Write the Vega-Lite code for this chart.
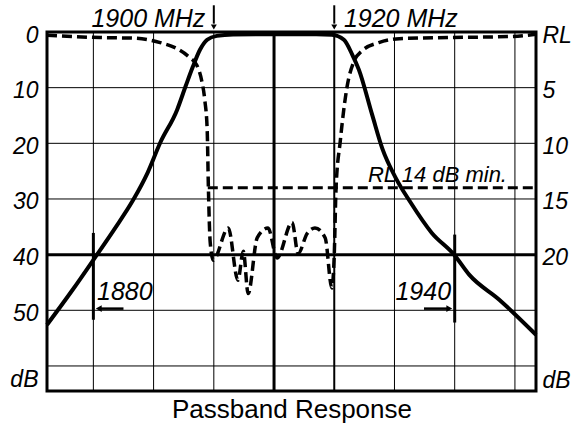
{
  "$schema": "https://vega.github.io/schema/vega-lite/v6.json",
  "width": 489,
  "height": 359,
  "autosize": "none",
  "padding": {"left": 47, "top": 32, "right": 36, "bottom": 32},
  "background": "white",
  "config": {
    "view": {"stroke": "black", "strokeWidth": 3},
    "font": "Liberation Sans",
    "axis": {"grid": false, "ticks": false, "domain": false, "title": null, "labelFont": "Liberation Sans", "labelFontStyle": "italic", "labelFontSize": 23, "labelColor": "black", "labelFlush": false, "labelOverlap": false, "labelBound": false}
  },
  "datasets": {
    "vthin": [{"f": 1880}, {"f": 1890}, {"f": 1900}, {"f": 1930}, {"f": 1940}, {"f": 1950}],
    "v1920": [{"f": 1920}],
    "v1910": [{"f": 1910}],
    "hthin": [{"db": 10}, {"db": 20}, {"db": 30}, {"db": 50}, {"db": 60}],
    "h40": [{"db": 40}],
    "markers": [{"f": 1880, "db": 36.1, "db2": 51.7}, {"f": 1940, "db": 36.4, "db2": 52.2}],
    "shafts": [{"f": 1881.0, "f2": 1885.0, "db": 49.7}, {"f": 1934.9, "f2": 1939.0, "db": 49.7}],
    "topshafts": [{"f": 1900, "db": -4.8, "db2": -1.5}, {"f": 1920, "db": -4.8, "db2": -1.5}],
    "headLeft": [{"f": 1880.9, "db": 49.7}],
    "headRight": [{"f": 1939.1, "db": 49.7}],
    "headDown": [{"f": 1900, "db": -0.9}, {"f": 1920, "db": -0.9}],
    "il": [
      {"f": 1872.3, "db": 52.6}, {"f": 1876.5, "db": 46.4}, {"f": 1880.6, "db": 40.0},
      {"f": 1883.5, "db": 35.4}, {"f": 1886.6, "db": 30.2}, {"f": 1889.0, "db": 25.3},
      {"f": 1891.1, "db": 19.9}, {"f": 1893.9, "db": 14.0}, {"f": 1895.3, "db": 9.8},
      {"f": 1896.5, "db": 6.3}, {"f": 1897.7, "db": 3.2}, {"f": 1898.9, "db": 1.4},
      {"f": 1900.5, "db": 0.7}, {"f": 1903.2, "db": 0.45}, {"f": 1910, "db": 0.4},
      {"f": 1917, "db": 0.4}, {"f": 1919.6, "db": 0.5}, {"f": 1921.6, "db": 1.4},
      {"f": 1923.0, "db": 4.1}, {"f": 1924.1, "db": 6.8}, {"f": 1926.3, "db": 14.9},
      {"f": 1928.0, "db": 21.0}, {"f": 1930.2, "db": 26.2}, {"f": 1932.6, "db": 30.5},
      {"f": 1936.2, "db": 36.1}, {"f": 1939.9, "db": 40.0}, {"f": 1942.4, "db": 43.6},
      {"f": 1947.4, "db": 48.1}, {"f": 1953.5, "db": 54.4}
    ],
    "textR": [{"f": 1898.6, "db": -0.9, "label": "1900 MHz"}, {"f": 1939.4, "db": 48.1, "label": "1940"}],
    "textL": [{"f": 1921.6, "db": -0.9, "label": "1920 MHz"}, {"f": 1880.6, "db": 48.1, "label": "1880"}],
    "rl": [
      {"f": 1872.3, "rl": 0.3}, {"f": 1881.1, "rl": 0.5}, {"f": 1886.6, "rl": 0.55},
      {"f": 1891.1, "rl": 0.95}, {"f": 1893.9, "rl": 1.5}, {"f": 1896.0, "rl": 2.3},
      {"f": 1897.2, "rl": 3.0}, {"f": 1898.0, "rl": 4.4}, {"f": 1898.5, "rl": 6.1},
      {"f": 1898.9, "rl": 8.8}, {"f": 1899.1, "rl": 14}, {"f": 1899.4, "rl": 18.9},
      {"f": 1899.9, "rl": 20.5}, {"f": 1902.4, "rl": 17.6}, {"f": 1904.0, "rl": 22.3},
      {"f": 1904.9, "rl": 19.7}, {"f": 1905.7, "rl": 23.5}, {"f": 1907.2, "rl": 18.5},
      {"f": 1909.0, "rl": 17.6}, {"f": 1910.5, "rl": 20.3}, {"f": 1913.0, "rl": 17.1},
      {"f": 1914.0, "rl": 19.9}, {"f": 1915.5, "rl": 18.1}, {"f": 1916.8, "rl": 17.6},
      {"f": 1918.5, "rl": 18.5}, {"f": 1919.6, "rl": 23.0}, {"f": 1920.0, "rl": 20.0},
      {"f": 1920.3, "rl": 14.0}, {"f": 1921.0, "rl": 9.8}, {"f": 1922.1, "rl": 5.0},
      {"f": 1923.3, "rl": 2.6}, {"f": 1924.6, "rl": 1.7}, {"f": 1927.4, "rl": 0.95},
      {"f": 1930.8, "rl": 0.6}, {"f": 1939.1, "rl": 0.5}, {"f": 1949.5, "rl": 0.4},
      {"f": 1953.5, "rl": 0.2}
    ],
    "rlmin": [{"f": 1899.0, "f2": 1953.5, "rl": 14}],
    "rltext": [{"f": 1925.6, "rl": 13.45, "label": "RL 14 dB min."}]
  },
  "layer": [
    {
      "layer": [
        {
          "data": {"name": "vthin"},
          "mark": {"type": "rule", "color": "black", "strokeWidth": 1},
          "encoding": {
            "x": {"field": "f", "type": "quantitative", "scale": {"domain": [1872.3, 1953.5], "nice": false, "zero": false},
              "axis": {"labels": false, "title": "Passband Response", "titleFont": "Liberation Sans", "titleFontSize": 26, "titleFontWeight": "normal", "titleColor": "black", "titlePadding": 5}}
          }
        },
        {
          "data": {"name": "v1920"},
          "mark": {"type": "rule", "color": "black", "strokeWidth": 2},
          "encoding": {"x": {"field": "f", "type": "quantitative"}}
        },
        {
          "data": {"name": "v1910"},
          "mark": {"type": "rule", "color": "black", "strokeWidth": 3},
          "encoding": {"x": {"field": "f", "type": "quantitative"}}
        },
        {
          "data": {"name": "hthin"},
          "mark": {"type": "rule", "color": "black", "strokeWidth": 1},
          "encoding": {
            "y": {"field": "db", "type": "quantitative", "scale": {"domain": [0, 64.5], "nice": false, "zero": false, "reverse": true},
              "axis": {"orient": "left", "values": [0, 10, 20, 30, 40, 50, 61.9], "labelExpr": "datum.value > 55 ? 'dB' : datum.label", "labelPadding": 9, "labelOffset": 3}}
          }
        },
        {
          "data": {"name": "h40"},
          "mark": {"type": "rule", "color": "black", "strokeWidth": 3},
          "encoding": {"y": {"field": "db", "type": "quantitative"}}
        },
        {
          "data": {"name": "markers"},
          "mark": {"type": "rule", "color": "black", "strokeWidth": 3},
          "encoding": {
            "x": {"field": "f", "type": "quantitative"},
            "y": {"field": "db", "type": "quantitative"},
            "y2": {"field": "db2"}
          }
        },
        {
          "data": {"name": "shafts"},
          "mark": {"type": "rule", "color": "black", "strokeWidth": 2.5},
          "encoding": {
            "x": {"field": "f", "type": "quantitative"},
            "x2": {"field": "f2"},
            "y": {"field": "db", "type": "quantitative"}
          }
        },
        {
          "data": {"name": "topshafts"},
          "mark": {"type": "rule", "color": "black", "strokeWidth": 2},
          "encoding": {
            "x": {"field": "f", "type": "quantitative"},
            "y": {"field": "db", "type": "quantitative"},
            "y2": {"field": "db2"}
          }
        },
        {
          "data": {"name": "headLeft"},
          "mark": {"type": "point", "shape": "triangle-left", "filled": true, "color": "black", "size": 45, "opacity": 1},
          "encoding": {
            "x": {"field": "f", "type": "quantitative"},
            "y": {"field": "db", "type": "quantitative"}
          }
        },
        {
          "data": {"name": "headRight"},
          "mark": {"type": "point", "shape": "triangle-right", "filled": true, "color": "black", "size": 45, "opacity": 1},
          "encoding": {
            "x": {"field": "f", "type": "quantitative"},
            "y": {"field": "db", "type": "quantitative"}
          }
        },
        {
          "data": {"name": "headDown"},
          "mark": {"type": "point", "shape": "triangle-down", "filled": true, "color": "black", "size": 35, "opacity": 1},
          "encoding": {
            "x": {"field": "f", "type": "quantitative"},
            "y": {"field": "db", "type": "quantitative"}
          }
        },
        {
          "data": {"name": "il"},
          "mark": {"type": "line", "color": "black", "strokeWidth": 4, "interpolate": "monotone"},
          "encoding": {
            "x": {"field": "f", "type": "quantitative"},
            "y": {"field": "db", "type": "quantitative"}
          }
        },
        {
          "data": {"name": "textR"},
          "mark": {"type": "text", "align": "right", "baseline": "alphabetic", "font": "Liberation Sans", "fontStyle": "italic", "fontSize": 25, "color": "black"},
          "encoding": {
            "x": {"field": "f", "type": "quantitative"},
            "y": {"field": "db", "type": "quantitative"},
            "text": {"field": "label"}
          }
        },
        {
          "data": {"name": "textL"},
          "mark": {"type": "text", "align": "left", "baseline": "alphabetic", "font": "Liberation Sans", "fontStyle": "italic", "fontSize": 25, "color": "black"},
          "encoding": {
            "x": {"field": "f", "type": "quantitative"},
            "y": {"field": "db", "type": "quantitative"},
            "text": {"field": "label"}
          }
        }
      ]
    },
    {
      "layer": [
        {
          "data": {"name": "rl"},
          "mark": {"type": "line", "color": "black", "strokeWidth": 3.5, "strokeDash": [10, 5], "interpolate": "monotone"},
          "encoding": {
            "x": {"field": "f", "type": "quantitative"},
            "y": {"field": "rl", "type": "quantitative", "scale": {"domain": [0, 32.25], "nice": false, "zero": false, "reverse": true},
              "axis": {"orient": "right", "values": [0, 5, 10, 15, 20, 31.0], "labelExpr": "datum.value == 0 ? 'RL' : (datum.value > 25 ? 'dB' : datum.label)", "labelPadding": 6, "labelOffset": 3}}
          }
        },
        {
          "data": {"name": "rlmin"},
          "mark": {"type": "rule", "color": "black", "strokeWidth": 3, "strokeDash": [10, 5]},
          "encoding": {
            "x": {"field": "f", "type": "quantitative"},
            "x2": {"field": "f2"},
            "y": {"field": "rl", "type": "quantitative"}
          }
        },
        {
          "data": {"name": "rltext"},
          "mark": {"type": "text", "align": "left", "baseline": "alphabetic", "font": "Liberation Sans", "fontStyle": "italic", "fontSize": 22, "color": "black"},
          "encoding": {
            "x": {"field": "f", "type": "quantitative"},
            "y": {"field": "rl", "type": "quantitative"},
            "text": {"field": "label"}
          }
        }
      ]
    }
  ],
  "resolve": {"scale": {"y": "independent"}}
}
